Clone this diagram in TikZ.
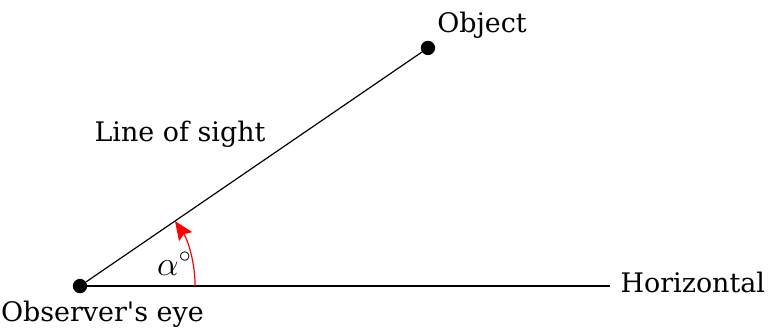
\documentclass[tikz,border=0pt]{standalone}
\usepackage{fontspec}
\setmainfont{DejaVu Serif}[Ligatures=TeXOff]
\usetikzlibrary{positioning,arrows.meta}

\begin{document}
\begin{tikzpicture}[>=Stealth,
    dot/.style={circle, fill=black, inner sep=0pt, minimum size=0.38cm},
    lbl/.style={font=\fontsize{20.3}{23}\selectfont, inner sep=0pt}]

    \useasboundingbox (-2.12,-1.22) rectangle (18.39,7.58);

    % =========================================================================
    % Points: observer's eye and object
    % =========================================================================
    \node[dot] (eye) at (0, 0) {};
    \node[dot] (obj) at (9.22, 6.31) {};
    \coordinate (horiz) at (14.05, 0);

    % Line of sight and horizontal
    \draw[line width=0.9pt] (eye) -- (obj);
    \draw[line width=0.9pt] (eye) -- (horiz);

    % Angle of elevation
    \draw[->, red, line width=0.9pt, >={Stealth[length=0.5cm, width=0.42cm, inset=0.08cm]}]
        ([xshift=3.05cm]eye.center) arc[start angle=0, end angle=34.4, radius=3.05];

    % =========================================================================
    % Labels
    % =========================================================================
    \node[lbl, anchor=base west] (objlbl) at ([xshift=0.24cm, yshift=0.4cm]obj.center) {Object};
    \node[lbl, anchor=base west] (horizlbl) at ([xshift=0.27cm, yshift=-0.16cm]horiz) {Horizontal};
    \node[lbl, anchor=base] (sightlbl) at ([xshift=2.65cm, yshift=3.82cm]eye.center) {Line of sight};
    \node[lbl, anchor=base west] (eyelbl) at ([xshift=-2.1cm, yshift=-0.95cm]eye.center) {Observer's eye};
    \node[lbl, anchor=base, scale=1.25] (anglbl) at ([xshift=2.5cm, yshift=0.29cm]eye.center) {$\alpha^\circ$};

\end{tikzpicture}
\end{document}
